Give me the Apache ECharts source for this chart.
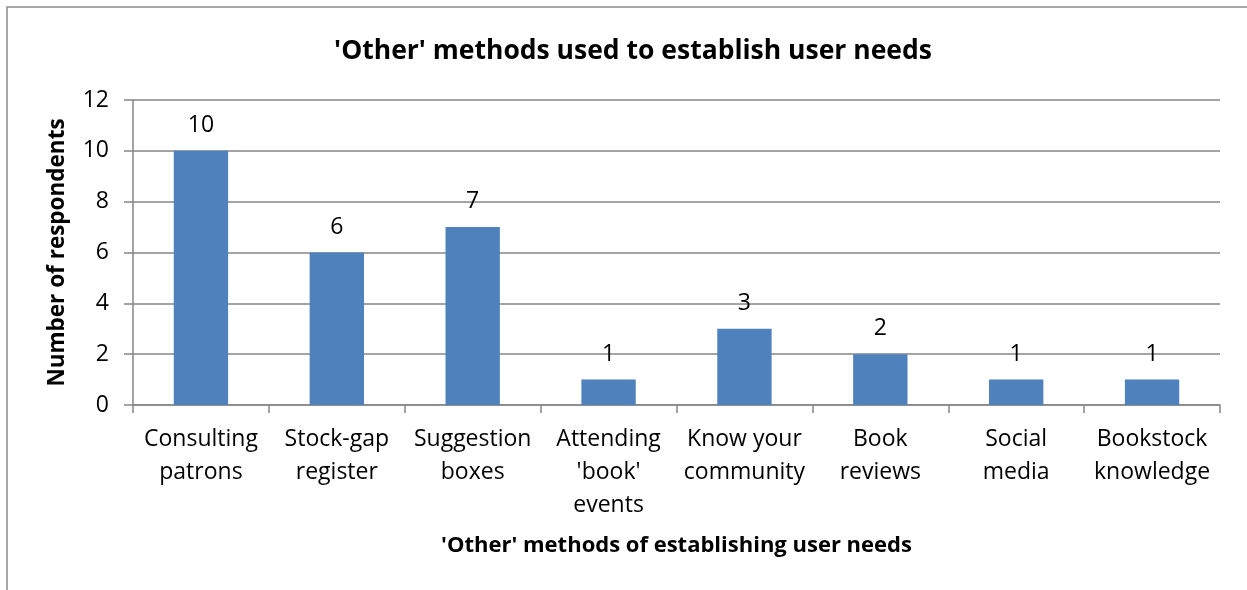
<!DOCTYPE html>
<html>
<head>
<meta charset="utf-8">
<script src="https://cdn.jsdelivr.net/npm/echarts@6/dist/echarts.min.js"></script>
<style>
html,body{margin:0;padding:0;background:#fff;}
#chart{width:1247px;height:590px;}
</style>
</head>
<body>
<div id="chart"></div>
<script>
const categories = ["Consulting\npatrons", "Stock-gap\nregister", "Suggestion\nboxes", "Attending\n'book'\nevents", "Know your\ncommunity", "Book\nreviews", "Social\nmedia", "Bookstock\nknowledge"];
const values = [10, 6, 7, 1, 3, 2, 1, 1];
const titleText = "'Other' methods used to establish user needs";
const xName = "'Other' methods of establishing user needs";
const yName = "Number of respondents";

const font = "'Open Sans', 'Liberation Sans', sans-serif";
const chart = echarts.init(document.getElementById('chart'));
chart.setOption({
  animation: false,
  backgroundColor: '#fff',
  title: {
    text: titleText, left: 628, top: 33, textAlign: 'center',
    textStyle: {fontFamily: font, fontSize: 26.5, fontWeight: 'bold', color: '#000'}
  },
  graphic: [{
    type: 'polyline', silent: true,
    shape: {points: [[7, 600], [7, 7], [1260, 7]]},
    style: {stroke: '#8c8c8c', lineWidth: 1.5, fill: null}
  }],
  grid: {left: 133, right: 27, top: 100, bottom: 185, containLabel: false},
  xAxis: {
    type: 'category', data: categories,
    name: xName, nameLocation: 'middle', nameGap: 130,
    nameTextStyle: {fontFamily: font, fontSize: 22, fontWeight: 'bold', color: '#000'},
    axisLine: {lineStyle: {color: '#868686', width: 1.5}},
    axisTick: {show: true, length: 8, alignWithLabel: false, lineStyle: {color: '#868686', width: 1.5}},
    axisLabel: {interval: 0, margin: 18, fontFamily: font, fontSize: 23, lineHeight: 33, color: '#000'}
  },
  yAxis: {
    type: 'value', min: 0, max: 12, interval: 2,
    name: yName, nameLocation: 'middle', nameGap: 64, nameRotate: 90,
    nameTextStyle: {fontFamily: font, fontSize: 22.5, fontWeight: 'bold', color: '#000'},
    axisLine: {show: true, lineStyle: {color: '#868686', width: 1.5}},
    axisTick: {show: true, length: 9, lineStyle: {color: '#868686', width: 1.5}},
    splitLine: {lineStyle: {color: '#868686', width: 1.5}},
    axisLabel: {margin: 24, fontFamily: font, fontSize: 23, color: '#000'}
  },
  series: [{
    type: 'bar', data: values, barWidth: '40%',
    itemStyle: {color: '#4F81BD'},
    label: {show: true, position: 'top', distance: 14, fontFamily: font, fontSize: 23, color: '#000'}
  }]
});
</script>
</body>
</html>
